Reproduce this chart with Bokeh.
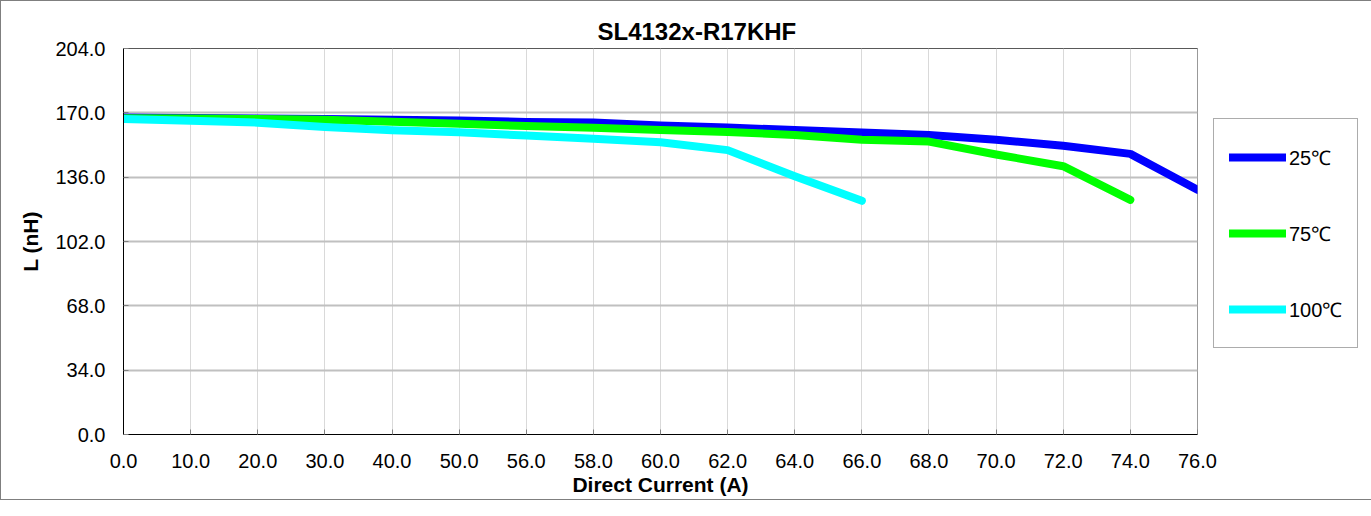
from bokeh.plotting import figure
from bokeh.models import FactorRange, Range1d, FixedTicker, Legend, LegendItem, PrintfTickFormatter
from bokeh.embed import file_html
from bokeh.resources import INLINE

# ---- data ----
current_labels = ["0.0", "10.0", "20.0", "30.0", "40.0", "50.0", "56.0", "58.0", "60.0",
                  "62.0", "64.0", "66.0", "68.0", "70.0", "72.0", "74.0", "76.0"]
L_25C = [167.5, 167.3, 167.0, 166.7, 166.4, 166.0, 165.2, 164.9, 163.3, 162.2,
         160.9, 159.6, 158.3, 155.8, 152.6, 148.3, 129.3]
L_75C = [167.2, 167.0, 166.8, 166.3, 165.3, 164.2, 163.0, 162.1, 160.9, 159.9,
         158.3, 155.8, 154.8, 148.0, 141.8, 124.0]
L_100C = [166.8, 165.8, 164.8, 162.5, 160.8, 159.7, 158.0, 156.3, 154.5, 150.3,
          136.5, 123.5]
y_ticks = [0, 34, 68, 102, 136, 170, 204]
series_names = ["25\u2103", "75\u2103", "100\u2103"]
series_colors = ["#0000FF", "#00FF00", "#00FFFF"]

FONT = "Liberation Sans"

W, H = 1353, 498
p = figure(width=W, height=H, frame_width=1074, frame_height=386,
           output_backend="svg", toolbar_location=None,
           x_range=FactorRange(factors=current_labels, range_padding=-0.499,
                               range_padding_units="absolute"),
           y_range=Range1d(0, 204),
           min_border_left=122, min_border_right=140, min_border_top=47,
           min_border_bottom=H - 433)

p.styles = {"border": "1px solid #7f7f7f"}

# title
p.title.text = "SL4132x-R17KHF"
p.title.text_font = FONT
p.title.text_font_size = "24px"
p.title.text_font_style = "bold"
p.title.text_color = "black"
p.title.align = "left"
p.title.offset = 474
p.title.standoff = 8

# frame
p.outline_line_color = "#595959"
p.outline_line_width = 1
p.background_fill_color = "white"
p.border_fill_color = "white"

# grids
p.xgrid.grid_line_color = "#d9d9d9"
p.xgrid.grid_line_width = 1
p.ygrid.grid_line_color = "#c0c0c0"
p.ygrid.grid_line_width = 2
p.ygrid.ticker = FixedTicker(ticks=y_ticks)

# axes
for ax in (p.xaxis[0], p.yaxis[0]):
    ax.axis_line_color = "black"
    ax.axis_line_width = 1
    ax.major_tick_in = 5
    ax.major_tick_out = 0
    ax.major_tick_line_color = "#808080"
    ax.minor_tick_line_color = None
    ax.major_label_text_font = FONT
    ax.major_label_text_font_size = "20px"
    ax.major_label_text_color = "black"
    ax.axis_label_text_font = FONT
    ax.axis_label_text_font_style = "bold"
    ax.axis_label_text_font_size = "21px"
    ax.axis_label_text_color = "black"

p.xaxis.axis_label = "Direct Current (A)"
p.xaxis.major_label_standoff = 19
p.xaxis.axis_label_standoff = 2
p.yaxis.axis_label = "L (nH)"
p.yaxis.ticker = FixedTicker(ticks=y_ticks)
p.yaxis.formatter = PrintfTickFormatter(format="%.1f")
p.yaxis.major_label_standoff = 18
p.yaxis.axis_label_standoff = 10

renderers = []
for vals, col in zip([L_25C, L_75C, L_100C], series_colors):
    r = p.line(x=current_labels[:len(vals)], y=vals, line_color=col, line_width=8,
               line_cap="round", line_join="round")
    renderers.append(r)

legend = Legend(items=[LegendItem(label=n, renderers=[r]) for n, r in zip(series_names, renderers)],
                location=(16, 86), orientation="vertical",
                padding=15, spacing=30, label_height=46, glyph_height=46, glyph_width=57,
                label_standoff=3, label_text_font=FONT, label_text_font_size="20px",
                label_text_color="black",
                border_line_color="#595959", border_line_width=1,
                background_fill_color="white", background_fill_alpha=1.0,
                margin=0)
p.add_layout(legend, "right")

open("out.html", "w").write(file_html(p, INLINE))
